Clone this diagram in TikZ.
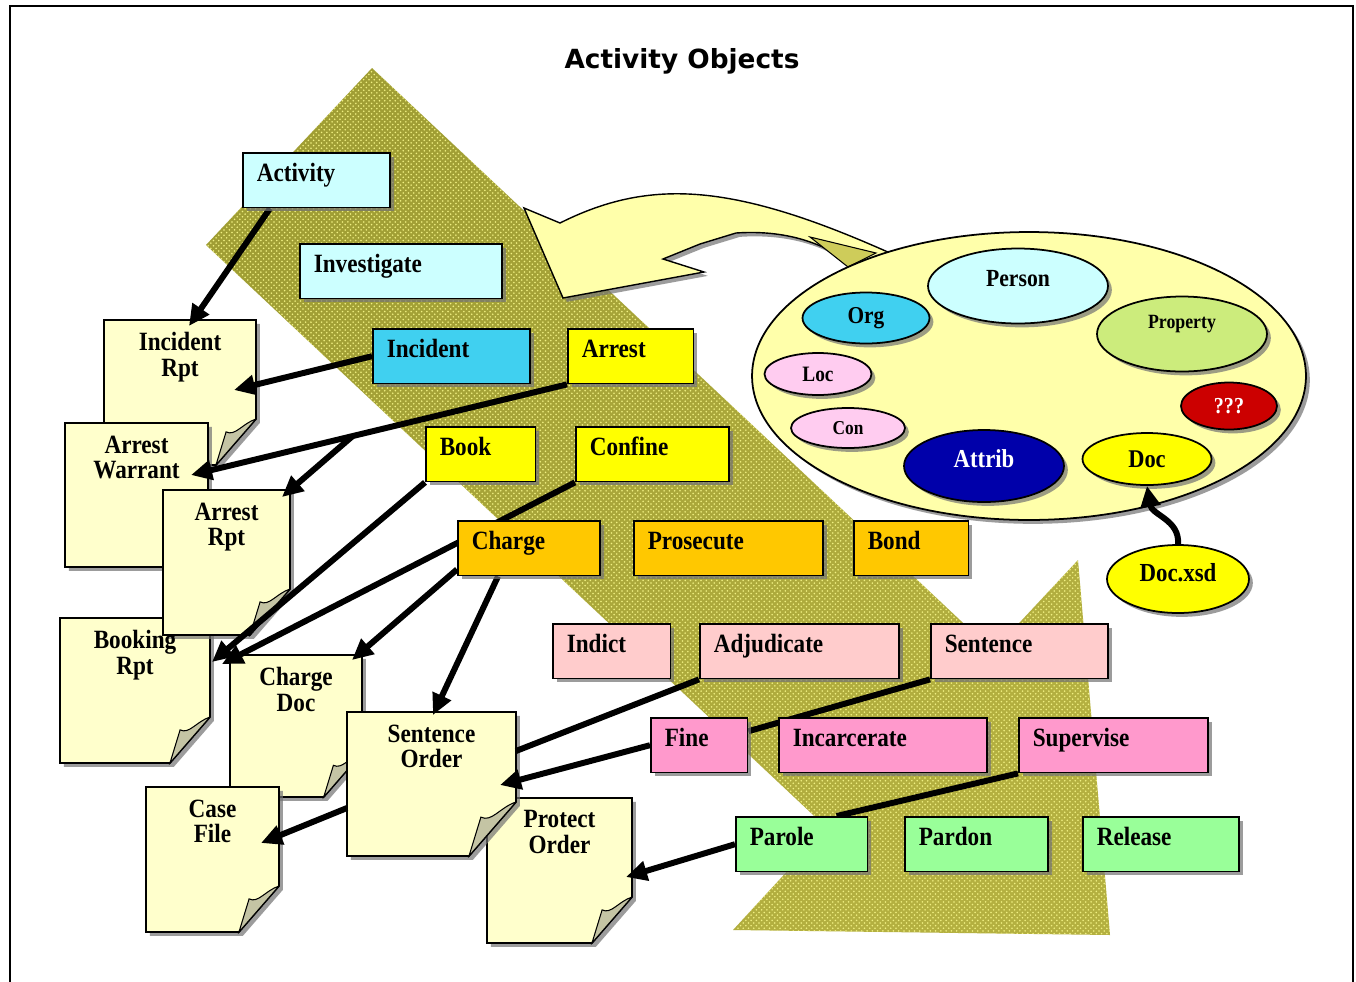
\documentclass[tikz,border=0pt]{standalone}
\usepackage{fontspec}
\usepackage{tikz}
\usetikzlibrary{arrows.meta,shapes.geometric,shadows,positioning,patterns}
\newfontfamily\lblfont{Liberation Serif}[FakeStretch=0.88]
\newfontfamily\titlefont{DejaVu Sans}
\definecolor{paleCyan}{RGB}{204,255,255}
\definecolor{skyCyan}{RGB}{64,208,240}
\definecolor{actYellow}{RGB}{255,255,0}
\definecolor{actGold}{RGB}{255,200,0}
\definecolor{paleRose}{RGB}{255,204,204}
\definecolor{hotRose}{RGB}{255,153,204}
\definecolor{paleMint}{RGB}{153,255,153}
\definecolor{pageYellow}{RGB}{255,255,204}
\definecolor{curlGray}{RGB}{196,196,164}
\definecolor{objYellow}{RGB}{255,255,170}
\definecolor{oliveDark}{RGB}{160,158,52}
\definecolor{oliveMid}{RGB}{206,204,90}
\definecolor{oliveLow}{RGB}{180,176,64}
\definecolor{oliveDots}{RGB}{240,240,130}
\definecolor{propGreen}{RGB}{204,236,124}
\definecolor{lilac}{RGB}{255,204,240}
\definecolor{alertRed}{RGB}{204,0,0}
\definecolor{attribBlue}{RGB}{0,0,170}
\pgfdeclarelayer{bg}
\pgfdeclarelayer{docs}
\pgfdeclarelayer{links}
\pgfsetlayers{bg,docs,links,main}

\begin{document}
\begin{tikzpicture}[x=0.02cm,y=-0.02cm,
		shade3d/.style={drop shadow={shadow xshift=2.2pt,shadow yshift=-2.2pt,fill=black!55,opacity=.7}},
		actbox/.style={draw,line width=1pt,anchor=north west,shade3d,inner xsep=7.9pt,inner ysep=0pt,
			text height=16.4pt,text depth=14.7pt,align=left,font=\lblfont\bfseries\fontsize{15}{16}\selectfont},
		docframe/.style={anchor=north west,inner sep=0pt,outer sep=0pt},
		doctext/.style={align=center,inner sep=0pt,font=\lblfont\bfseries\fontsize{15}{14.7}\selectfont},
		docpage/.style={draw,line width=1pt,fill=pageYellow,shade3d},
		curl/.style={draw,line width=.6pt,fill=curlGray},
		obj/.style={ellipse,draw,line width=1pt,shade3d,inner sep=0pt,font=\lblfont\bfseries\fontsize{#1}{#1}\selectfont},
		arr/.style={line width=3.4pt,-{Triangle[length=12pt,width=11pt]}},
		link/.style={line width=3.4pt}]
		\useasboundingbox (0,0) rectangle (1356,981);
		\begin{pgfonlayer}{bg}
		\fill[white] (0,0) rectangle (1356,981);
		% big olive arrow
		\shade[shading=axis,top color=oliveDark,middle color=oliveMid,bottom color=oliveLow,shading angle=45,
			postaction={pattern=crosshatch dots,pattern color=oliveDots}]
		(372,68) -- (993,651) -- (1078,560) -- (1110,935) -- (733,930) -- (827,828) -- (206,245) -- cycle;
		% curved callout
		\draw[line width=.8pt,fill=objYellow,shade3d]
		(524,208) -- (560,223) .. controls (600,203) and (640,192) .. (688,194)
		.. controls (760,197) and (840,230) .. (910,262) -- (880,282) -- (851,264)
		.. controls (820,240) and (780,230) .. (736,233) -- (700,244) -- (663,259)
		-- (704,272) -- (563,298) -- cycle;
		\draw[line width=.6pt,fill=oliveMid] (810,237) -- (876,253) -- (848,267) -- cycle;
		\end{pgfonlayer}
		\node[font=\titlefont\bfseries\fontsize{15}{18}\selectfont] (title) at (682,61) {Activity Objects};
		\draw[line width=1.5pt] (10,995) -- (10,6) -- (1353,6) -- (1353,995);
		% activity boxes
		\foreach \n/\lbl/\x/\y/\w/\col in {
			activity/Activity/242/152/148/paleCyan, investigate/Investigate/299/243/203/paleCyan,
			incident/Incident/372/328/158/skyCyan, arrest/Arrest/567/328/126/actYellow,
			book/Book/425/426/110/actYellow, confine/Confine/575/426/154/actYellow,
			charge/Charge/457/520/143/actGold, prosecute/Prosecute/633/520/190/actGold,
			bond/Bond/853/520/115/actGold,
			indict/Indict/552/623/118/paleRose, adjud/Adjudicate/699/623/200/paleRose,
			sentence/Sentence/930/623/178/paleRose,
			fine/Fine/650/717/97/hotRose, incarc/Incarcerate/778/717/209/hotRose,
			supervise/Supervise/1018/717/190/hotRose,
			parole/Parole/735/816/132/paleMint, pardon/Pardon/904/816/144/paleMint,
			release/Release/1082/816/157/paleMint}{
			\pgfmathsetmacro\tw{\w*0.567-15.8}
			\node[actbox,fill=\col,text width=\tw pt] (\n) at (\x,\y) {\lbl};
		}
		% document pages
		\foreach \n/\lbl/\x/\y/\w/\h in {
			incrpt/Incident\\Rpt/104/320/152/145, warrant/Arrest\\Warrant/65/423/143/144,
			bookrpt/Booking\\Rpt/60/618/150/145, arrestrpt/Arrest\\Rpt/163/490/127/145,
			chargedoc/Charge\\Doc/230/655/132/142, casefile/Case\\File/146/787/133/145,
			protorder/Protect\\Order/487/798/145/145, sentorder/Sentence\\Order/347/712/169/144}{
			\node[docframe,minimum width=\w*0.02cm,minimum height=\h*0.02cm] (\n) at (\x,\y) {};
			\node[doctext,below=7pt of \n.north] (\n-lbl) {\lbl};
		}
		\begin{pgfonlayer}{docs}
		\foreach \n/\f in {incrpt/46,warrant/46,bookrpt/46,arrestrpt/46,chargedoc/44,casefile/46,protorder/46,sentorder/54}{
			\draw[docpage] (\n.north west) -- (\n.north east) -- ([shift={(0,-\f)}]\n.south east)
			-- ([shift={(-0.87*\f,0)}]\n.south east) -- (\n.south west) -- cycle;
			\draw[curl] ([shift={(0,-\f)}]\n.south east) -- ([shift={(-0.87*\f,0)}]\n.south east)
			-- ([shift={(-0.65*\f,-0.72*\f)}]\n.south east)
			.. controls ([shift={(-0.45*\f,-0.62*\f)}]\n.south east) and ([shift={(-0.3*\f,-0.9*\f)}]\n.south east)
			.. ([shift={(0,-\f)}]\n.south east);
		}
		\end{pgfonlayer}
		% connectors
		\begin{pgfonlayer}{links}
		\draw[arr] ([shift={(28,0)}]activity.south west) -- ([shift={(9,6)}]incrpt.north);
		\draw[arr] (incident.west) -- ([shift={(-22,70)}]incrpt.north east);
		\draw[arr] (arrest.south west) -- coordinate[pos=0.57] (fork) ([shift={(-17,52)}]warrant.north east);
		\draw[arr] (fork) -- ([shift={(-8,7)}]arrestrpt.north east);
		\draw[arr] (book.south west) -- ([shift={(2,44)}]bookrpt.north east);
		\draw[arr] (confine.south west) -- ([shift={(-8,9)}]chargedoc.north west);
		\draw[arr] ([shift={(0,-7)}]charge.south west) -- ([shift={(-10,5)}]chargedoc.north east);
		\draw[arr] ([shift={(41,0)}]charge.south west) -- ([shift={(86,3)}]sentorder.north west);
		\draw[link] (adjud.south west) -- (sentorder);
		\draw[arr] (fine.west) -- ([shift={(-16,73)}]sentorder.north east);
		\draw[arr] ([shift={(0,96)}]sentorder.north west) -- ([shift={(-18,56)}]casefile.north east);
		\draw[link] (sentence.south west) -- (fine);
		\draw[link] (supervise.south west) -- ([shift={(35,0)}]parole.north);
		\draw[arr] (parole.west) -- ([shift={(-6,79)}]protorder.north east);
		\end{pgfonlayer}
		% object ellipse
		\node[obj=12,fill=objYellow,minimum width=11.08cm,minimum height=5.76cm] (objects) at (1029,376) {};
		\node[obj=14,fill=paleCyan,minimum width=3.6cm,minimum height=1.5cm,text height=4pt,text depth=4pt] (person) at (1018,286) {Person};
		\node[obj=13.8,fill=skyCyan,minimum width=2.54cm,minimum height=1.02cm] (org) at (866,318) {Org};
		\node[obj=11.5,fill=propGreen,minimum width=3.4cm,minimum height=1.5cm,text height=2pt,text depth=8pt] (property) at (1182,334) {Property};
		\node[obj=12.5,fill=lilac,minimum width=2.14cm,minimum height=0.84cm] (loc) at (818,374) {Loc};
		\node[obj=11.2,fill=lilac,minimum width=2.28cm,minimum height=0.8cm] (con) at (848,428) {Con};
		\node[obj=13,fill=alertRed,text=white,minimum width=1.92cm,minimum height=0.94cm] (unknown) at (1229,406) {???};
		\node[obj=14.7,fill=attribBlue,text=white,minimum width=3.2cm,minimum height=1.44cm,text height=4.6pt,text depth=3.4pt] (attrib) at (984,466) {Attrib};
		\node[obj=14.5,fill=actYellow,minimum width=2.58cm,minimum height=1.04cm] (doc) at (1147,459) {Doc};
		\node[obj=14.8,fill=actYellow,minimum width=2.84cm,minimum height=1.36cm,text height=5.2pt,text depth=2.8pt] (docxsd) at (1178,579) {Doc.xsd};
		\draw[arr] (docxsd.north) .. controls (1180,520) and (1152,515) .. (doc.south);
	\end{tikzpicture}
\end{document}
